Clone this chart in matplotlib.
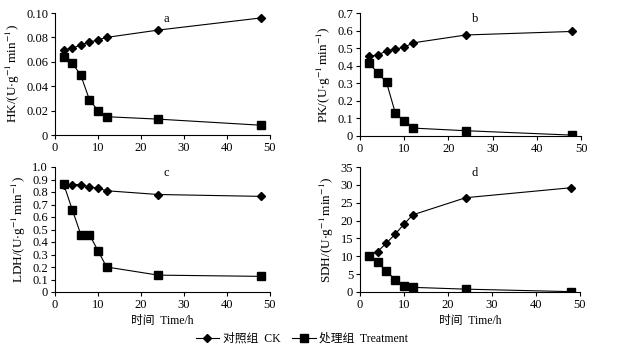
import matplotlib
matplotlib.use("Agg")
import matplotlib.pyplot as plt
from matplotlib.lines import Line2D

plt.rcParams['font.family'] = ['Liberation Serif', 'Noto Sans CJK SC']
plt.rcParams['mathtext.fontset'] = 'stix'
plt.rcParams['font.size'] = 9

hours = [2, 4, 6, 8, 10, 12, 24, 48]

hk_ck = [0.070, 0.071, 0.074, 0.076, 0.078, 0.080, 0.086, 0.096]
hk_trt = [0.064, 0.059, 0.049, 0.029, 0.020, 0.015, 0.013, 0.008]
pk_ck = [0.455, 0.46, 0.485, 0.495, 0.505, 0.53, 0.575, 0.595]
pk_trt = [0.415, 0.36, 0.305, 0.13, 0.085, 0.045, 0.03, 0.005]
ldh_ck = [0.86, 0.86, 0.86, 0.84, 0.83, 0.81, 0.78, 0.765]
ldh_trt = [0.865, 0.66, 0.46, 0.46, 0.33, 0.20, 0.135, 0.125]
sdh_ck = [10.2, 11.3, 13.7, 16.2, 19.0, 21.6, 26.4, 29.2]
sdh_trt = [10.2, 8.3, 5.8, 3.5, 1.6, 1.3, 0.8, 0.1]

panels = [
    ("a", "HK", hk_ck, hk_trt, [0, 0.02, 0.04, 0.06, 0.08, 0.10],
     ["0", "0.02", "0.04", "0.06", "0.08", "0.10"]),
    ("b", "PK", pk_ck, pk_trt, [0, 0.1, 0.2, 0.3, 0.4, 0.5, 0.6, 0.7],
     ["0", "0.1", "0.2", "0.3", "0.4", "0.5", "0.6", "0.7"]),
    ("c", "LDH", ldh_ck, ldh_trt, [0, 0.1, 0.2, 0.3, 0.4, 0.5, 0.6, 0.7, 0.8, 0.9, 1.0],
     ["0", "0.1", "0.2", "0.3", "0.4", "0.5", "0.6", "0.7", "0.8", "0.9", "1.0"]),
    ("d", "SDH", sdh_ck, sdh_trt, [0, 5, 10, 15, 20, 25, 30, 35],
     ["0", "5", "10", "15", "20", "25", "30", "35"]),
]

W, H = 618, 354
# axes boxes in pixels: left, top, right, bottom
boxes = [(55, 13, 270, 135), (360, 13, 581, 136), (55, 167, 270, 292), (360, 167, 580, 292)]

fig = plt.figure(figsize=(W / 100, H / 100), dpi=100)

for (letter, name, ck, trt, yt, ytl), (l, t, r, b) in zip(panels, boxes):
    ax = fig.add_axes([l / W, 1 - b / H, (r - l) / W, (b - t) / H])
    ax.plot(hours, ck, color="black", lw=0.8, marker="D", ms=4.2)
    ax.plot(hours, trt, color="black", lw=0.8, marker="s", ms=6)
    ax.set_xlim(0, 50)
    ax.set_ylim(yt[0], yt[-1])
    ax.set_xticks([0, 10, 20, 30, 40, 50])
    ax.set_yticks(yt)
    ax.set_yticklabels(ytl)
    ax.spines["top"].set_visible(False)
    ax.spines["right"].set_visible(False)
    ax.spines["left"].set_linewidth(0.8)
    ax.spines["bottom"].set_linewidth(0.8)
    ax.tick_params(direction="out", length=3, width=0.8, labelsize=9, pad=2)
    ax.set_ylabel(name + r"/(U$\cdot$g$^{-1}\,$min$^{-1}$)", fontsize=9.5, labelpad=3)
    ax.text(0.52, 0.95, letter, transform=ax.transAxes, ha="center", va="center", fontsize=9)
    if letter in ("c", "d"):
        ax.set_xlabel("时间  Time/h", fontsize=8.5, labelpad=3)

handles = [
    Line2D([], [], color="black", lw=0.8, marker="D", ms=4.2),
    Line2D([], [], color="black", lw=0.8, marker="s", ms=6),
]
fig.legend(handles, ["对照组  CK", "处理组  Treatment"], loc="center",
           bbox_to_anchor=(302 / W, 1 - 339 / H), ncol=2, frameon=False,
           fontsize=8.5, handlelength=2.0, columnspacing=1.0, handletextpad=0.3)

fig.savefig("out.png", dpi=100)
